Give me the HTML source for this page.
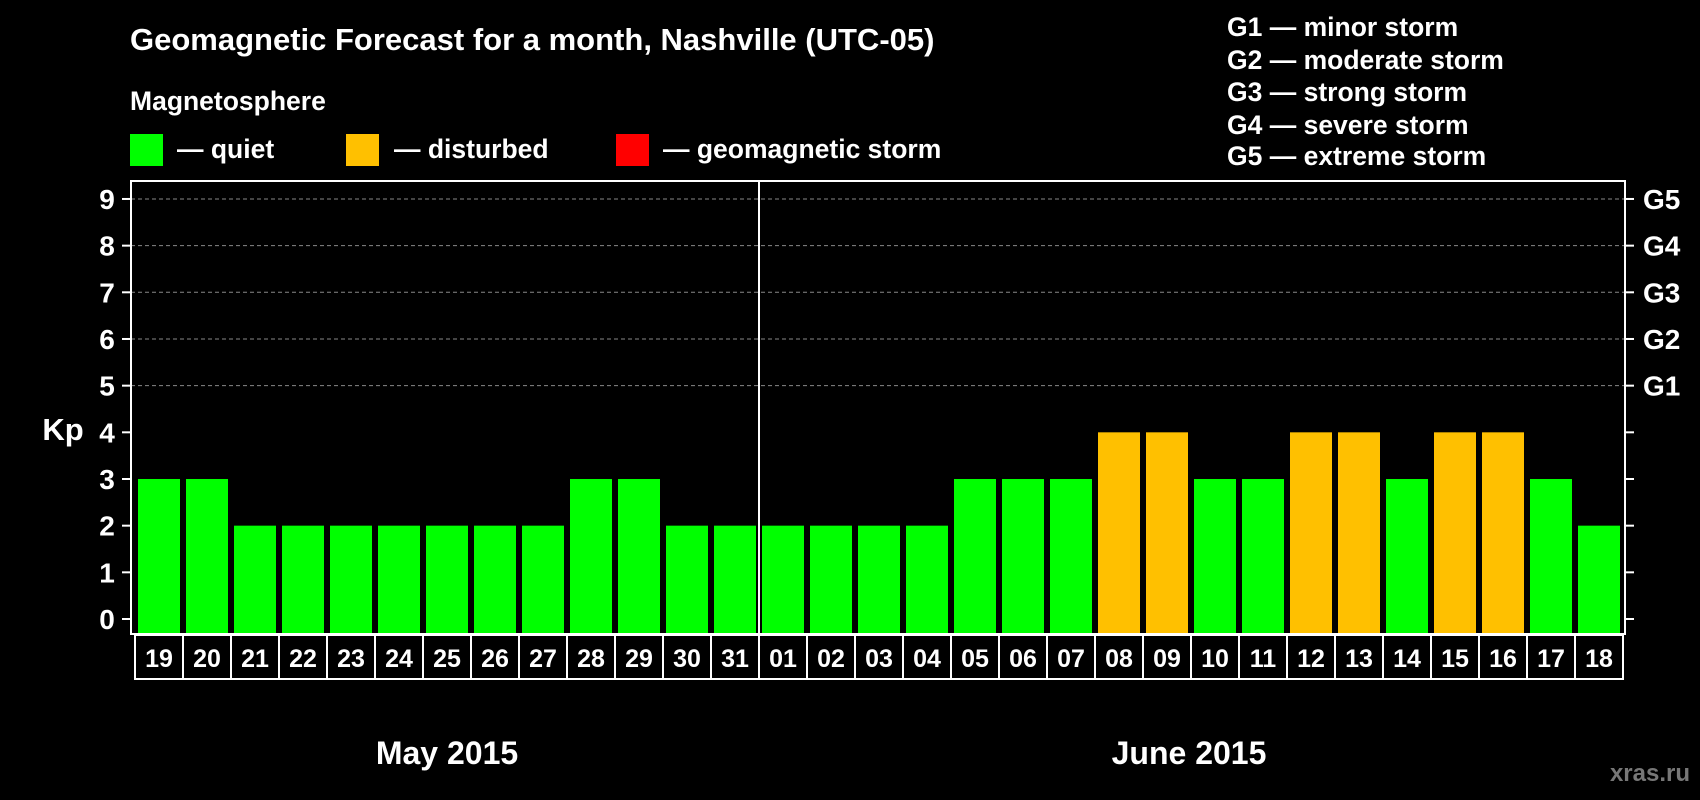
<!DOCTYPE html>
<html><head><meta charset="utf-8"><style>
html,body{margin:0;padding:0;background:#000;}
svg{display:block;font-family:"Liberation Sans",sans-serif;font-weight:bold;}
</style></head><body>
<svg id="chart" width="1700" height="800" viewBox="0 0 1700 800">
<rect width="1700" height="800" fill="#000"/>
<text x="130" y="50" fill="#fff" font-size="31">Geomagnetic Forecast for a month, Nashville (UTC-05)</text>
<text x="130" y="110" fill="#fff" font-size="26.5">Magnetosphere</text>
<g><rect x="130" y="134" width="33" height="32" fill="#00ff00"/><text x="177" y="158" fill="#fff" font-size="26.5">— quiet</text></g>
<g><rect x="346" y="134" width="33" height="32" fill="#ffc000"/><text x="394" y="158" fill="#fff" font-size="26.5">— disturbed</text></g>
<g><rect x="616" y="134" width="33" height="32" fill="#ff0000"/><text x="663" y="158" fill="#fff" font-size="26.5">— geomagnetic storm</text></g>
<g fill="#fff" font-size="26.5">
<text x="1227" y="36">G1 — minor storm</text>
<text x="1227" y="69">G2 — moderate storm</text>
<text x="1227" y="101">G3 — strong storm</text>
<text x="1227" y="134">G4 — severe storm</text>
<text x="1227" y="165">G5 — extreme storm</text>
</g>
<text x="63" y="440" fill="#fff" font-size="31" text-anchor="middle">Kp</text>
<g id="grid"></g><g id="bars"></g><g id="axes"></g><g id="cells"></g>
<text x="447" y="764" fill="#fff" font-size="32" text-anchor="middle">May 2015</text>
<text x="1189" y="764" fill="#fff" font-size="32" text-anchor="middle">June 2015</text>
<text x="1690" y="781" fill="#777" font-size="24" text-anchor="end">xras.ru</text>
</svg>
<script>
const days=["19","20","21","22","23","24","25","26","27","28","29","30","31","01","02","03","04","05","06","07","08","09","10","11","12","13","14","15","16","17","18"];
const kp=[3,3,2,2,2,2,2,2,2,3,3,2,2,2,2,2,2,3,3,3,4,4,3,3,4,4,3,4,4,3,2];
const yTicks=[0,1,2,3,4,5,6,7,8,9];
const gLabels=["G1","G2","G3","G4","G5"];
const NS="http://www.w3.org/2000/svg";
const L=131,R=1625,T=181,B=634,x0=135,step=48;
function y(v){return 619-v*46.67;}
function xc(i){return x0+i*step;}
function mk(p,tag,a){const e=document.createElementNS(NS,tag);for(const k in a)e.setAttribute(k,a[k]);p.appendChild(e);return e;}
const grid=document.getElementById('grid'),bars=document.getElementById('bars'),axes=document.getElementById('axes'),cells=document.getElementById('cells');
yTicks.forEach(v=>{
 if(v>=5){const g=mk(grid,'line',{x1:L,x2:R,y1:y(v),y2:y(v),stroke:'#888','stroke-dasharray':'4,3','stroke-width':1});
 
 }
 const t1=mk(axes,'line',{x1:L-9,x2:L,y1:y(v),y2:y(v),stroke:'#fff','stroke-width':2});
 
 
 const t2=mk(axes,'line',{x1:R,x2:R+9,y1:y(v),y2:y(v),stroke:'#fff','stroke-width':2});
 
 
 const lb=mk(axes,'text',{x:107,y:y(v)+10,fill:'#fff','font-size':28,'text-anchor':'middle'});lb.textContent=v;
 
 
 if(v>=5){const gl=mk(axes,'text',{x:1643,y:y(v)+10,fill:'#fff','font-size':28});gl.textContent=gLabels[v-5];
 
 }
});
kp.forEach((v,i)=>{
 const col=v>=5?'#ff0000':(v>=4?'#ffc000':'#00ff00');
 const b=mk(bars,'rect',{x:xc(i)+3,y:y(v),width:42,height:B-y(v),fill:col});
 
 
 const c=mk(cells,'rect',{x:xc(i),y:635,width:step,height:44,fill:'none',stroke:'#fff','stroke-width':2});
 
 
 const t=mk(cells,'text',{x:xc(i)+step/2,y:667,fill:'#fff','font-size':25,'text-anchor':'middle'});t.textContent=days[i];
 
 
});
const fr=mk(axes,'rect',{x:L,y:T,width:R-L,height:B-T,fill:'none',stroke:'#fff','stroke-width':2});


const dv=mk(axes,'line',{x1:xc(13),x2:xc(13),y1:T,y2:B,stroke:'#fff','stroke-width':2});


</script>
</body></html>
